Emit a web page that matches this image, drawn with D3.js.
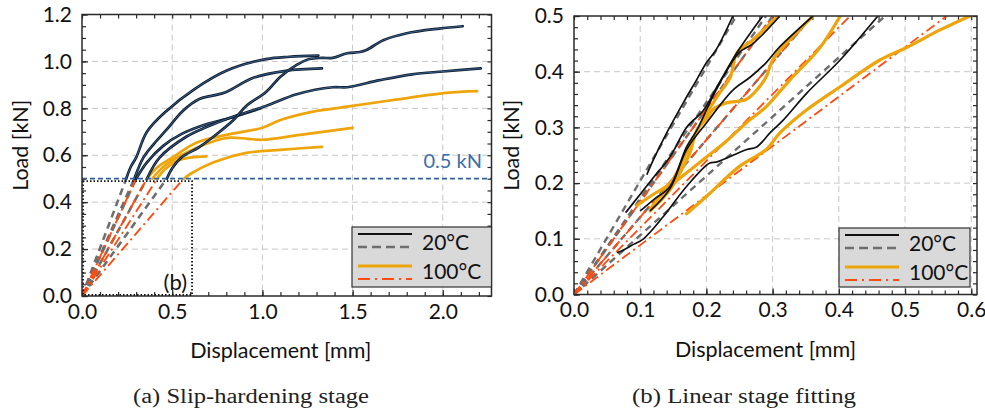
<!DOCTYPE html>
<html><head><meta charset="utf-8">
<script src="https://cdn.jsdelivr.net/npm/d3@7"></script>
<style>
html,body{margin:0;padding:0;background:#fff;}
svg{display:block;}
</style></head>
<body>
<svg id="chart" width="985" height="411"></svg>
<script>
// ---------- DATA ----------
const leftXTicks = [0.0, 0.5, 1.0, 1.5, 2.0];
const leftYTicks = [0.0, 0.2, 0.4, 0.6, 0.8, 1.0, 1.2];
const rightXTicks = [0.0, 0.1, 0.2, 0.3, 0.4, 0.5, 0.6];
const rightYTicks = [0.0, 0.1, 0.2, 0.3, 0.4, 0.5];

// 20°C slip-hardening curves (displacement mm, load kN)
const slip20A = [[0.245,0.5],[0.27,0.55],[0.30,0.59],[0.36,0.70],[0.47,0.79],[0.62,0.88],[0.80,0.96],[1.02,1.01],[1.15,1.02],[1.31,1.025]];
const slip20B = [[0.29,0.5],[0.34,0.59],[0.40,0.65],[0.47,0.71],[0.56,0.79],[0.65,0.84],[0.73,0.855],[0.80,0.87],[0.95,0.93],[1.13,0.96],[1.33,0.97]];
const slip20C = [[0.30,0.5],[0.36,0.57],[0.45,0.64],[0.55,0.69],[0.68,0.73],[0.85,0.765],[0.99,0.80]];
const slip20D = [[0.36,0.5],[0.43,0.59],[0.58,0.68],[0.69,0.72],[0.84,0.765],[1.02,0.81],[1.19,0.86],[1.39,0.89],[1.47,0.89],[1.65,0.92],[1.83,0.945],[2.0,0.957],[2.21,0.97]];
const slip20E = [[0.47,0.5],[0.50,0.545],[0.55,0.59],[0.65,0.635],[0.73,0.68],[0.84,0.75],[0.91,0.81],[1.02,0.87],[1.10,0.935],[1.19,0.985],[1.26,1.01],[1.33,1.015],[1.39,1.015],[1.47,1.035],[1.54,1.04],[1.58,1.05],[1.67,1.09],[1.80,1.12],[1.98,1.14],[2.11,1.15]];
// 100°C slip-hardening curves
const slip100A = [[0.36,0.5],[0.42,0.55],[0.50,0.59],[0.64,0.655],[0.82,0.69],[1.0,0.717],[1.1,0.75],[1.28,0.786],[1.47,0.807],[1.74,0.837],[2.02,0.866],[2.19,0.873]];
const slip100B = [[0.39,0.5],[0.45,0.55],[0.55,0.60],[0.73,0.66],[0.82,0.675],[0.92,0.67],[1.0,0.666],[1.21,0.687],[1.5,0.717]];
const slip100C = [[0.565,0.5],[0.60,0.52],[0.73,0.57],[0.91,0.61],[1.1,0.623],[1.33,0.636]];
const slip100D = [[0.417,0.5],[0.46,0.54],[0.54,0.58],[0.69,0.595]];

// Linear fits: displacement at which each fitted line reaches 0.5 kN
const fit20End = [0.245, 0.29, 0.30, 0.36, 0.47];
const fit100End = [0.30, 0.36, 0.417, 0.563];
const fitLoad = 0.5;

// Linear stage measured curves (panel b)
const lin20A = [[0.11,0.215],[0.12,0.242],[0.14,0.29],[0.165,0.344],[0.185,0.385],[0.20,0.416],[0.215,0.44],[0.24,0.5]];
const lin20B = [[0.078,0.147],[0.10,0.18],[0.12,0.21],[0.145,0.247],[0.17,0.30],[0.195,0.33],[0.216,0.373],[0.246,0.434],[0.285,0.5]];
const lin20C = [[0.10,0.15],[0.12,0.17],[0.145,0.194],[0.17,0.265],[0.186,0.296],[0.205,0.344],[0.225,0.39],[0.25,0.435],[0.27,0.45],[0.311,0.5]];
const lin20D = [[0.115,0.15],[0.145,0.19],[0.17,0.26],[0.2,0.308],[0.24,0.367],[0.266,0.39],[0.29,0.416],[0.311,0.445],[0.361,0.5]];
const lin20E = [[0.065,0.075],[0.075,0.08],[0.09,0.09],[0.105,0.1],[0.135,0.14],[0.17,0.194],[0.205,0.236],[0.216,0.238],[0.26,0.26],[0.276,0.265],[0.296,0.29],[0.316,0.313],[0.352,0.362],[0.402,0.421],[0.459,0.5]];
const lin100A = [[0.17,0.145],[0.2,0.176],[0.25,0.23],[0.29,0.26],[0.311,0.29],[0.352,0.332],[0.402,0.373],[0.462,0.421],[0.503,0.444],[0.553,0.475],[0.598,0.5]];
const lin100B = [[0.115,0.152],[0.125,0.17],[0.145,0.194],[0.195,0.242],[0.23,0.275],[0.26,0.308],[0.29,0.337],[0.326,0.385],[0.372,0.444],[0.402,0.5]];
const lin100C = [[0.115,0.15],[0.145,0.188],[0.16,0.218],[0.175,0.254],[0.186,0.296],[0.2,0.315],[0.21,0.332],[0.23,0.344],[0.26,0.35],[0.276,0.367],[0.29,0.39],[0.3,0.421],[0.32,0.45],[0.361,0.5]];
const lin100D = [[0.095,0.16],[0.12,0.18],[0.145,0.2],[0.17,0.254],[0.195,0.314],[0.216,0.355],[0.236,0.39],[0.246,0.434],[0.27,0.457],[0.308,0.5]];

const refLoad = 0.5;           // horizontal reference line
const zoomBox = [0.61, 0.49];  // region shown in panel (b)
const legendLabels = ["20°C", "100°C"];
const captions = ["(a) Slip-hardening stage", "(b) Linear stage fitting"];

// ---------- DRAWING ----------
const svg = d3.select("#chart");
const FONT = "Lato, 'Open Sans', sans-serif";
const C = {black:"#111111", navy:"#0f1c2c", blue:"#4a7db5", gray:"#6e6e6e", orange:"#eea50c", red:"#ff4a10", refBlue:"#2f5f9f", grid:"#c6c6c6", frame:"#2a2a2a"};
const TICKFS = 21, TITLEFS = 21.5;

function panel(cfg){
  const g = svg.append("g");
  const x = d3.scaleLinear().domain(cfg.xDom).range([cfg.x0, cfg.x1]);
  const y = d3.scaleLinear().domain(cfg.yDom).range([cfg.y1, cfg.y0]);
  const clipId = "clip"+cfg.id;
  svg.append("clipPath").attr("id", clipId).append("rect")
    .attr("x", cfg.x0).attr("y", cfg.y0).attr("width", cfg.x1-cfg.x0).attr("height", cfg.y1-cfg.y0);
  const grid = g.append("g");
  cfg.xTicks.filter(v=>v>0 && x(v)<cfg.x1-2).forEach(v=>{
    grid.append("line").attr("x1",x(v)).attr("x2",x(v)).attr("y1",cfg.y0).attr("y2",cfg.y1)
      .attr("stroke",C.grid).attr("stroke-width",1).attr("stroke-dasharray","6,4");
  });
  cfg.yTicks.filter(v=>v>0 && y(v)>cfg.y0+2).forEach(v=>{
    grid.append("line").attr("y1",y(v)).attr("y2",y(v)).attr("x1",cfg.x0).attr("x2",cfg.x1)
      .attr("stroke",C.grid).attr("stroke-width",1).attr("stroke-dasharray","6,4");
  });
  const xMinor = d3.range(cfg.xDom[0], cfg.xDom[1]+1e-9, cfg.xMinorStep);
  const yMinor = d3.range(cfg.yDom[0], cfg.yDom[1]+1e-9, cfg.yMinorStep);
  const styleAx = sel => { sel.select(".domain").remove(); sel.selectAll(".tick line").attr("stroke",C.frame).attr("stroke-width",1.2);
    sel.selectAll("text").attr("font-family",FONT).attr("font-size",TICKFS).attr("fill","#111"); };
  g.append("g").attr("transform",`translate(0,${cfg.y1})`)
    .call(d3.axisBottom(x).tickValues(xMinor).tickSize(-4).tickFormat("")).call(styleAx);
  g.append("g").attr("transform",`translate(0,${cfg.y0})`)
    .call(d3.axisTop(x).tickValues(xMinor).tickSize(-4).tickFormat("")).call(styleAx);
  g.append("g").attr("transform",`translate(${cfg.x0},0)`)
    .call(d3.axisLeft(y).tickValues(yMinor).tickSize(-4).tickFormat("")).call(styleAx);
  g.append("g").attr("transform",`translate(${cfg.x1},0)`)
    .call(d3.axisRight(y).tickValues(yMinor).tickSize(-4).tickFormat("")).call(styleAx);
  g.append("g").attr("transform",`translate(0,${cfg.y1})`)
    .call(d3.axisBottom(x).tickValues(cfg.xTicks).tickSize(-6).tickPadding(8).tickFormat(d3.format(".1f"))).call(styleAx)
    .selectAll("text").attr("dy","0.71em");
  g.append("g").attr("transform",`translate(${cfg.x0},0)`)
    .call(d3.axisLeft(y).tickValues(cfg.yTicks).tickSize(-6).tickPadding(10).tickFormat(d3.format(".1f"))).call(styleAx);
  g.append("text").attr("x",(cfg.x0+cfg.x1)/2 + cfg.xTitleDx).attr("y",cfg.y1+62).attr("text-anchor","middle")
    .attr("font-family",FONT).attr("font-size",TITLEFS).attr("fill","#111").text("Displacement [mm]");
  g.append("text").attr("transform",`translate(${cfg.yTitleX},${(cfg.y0+cfg.y1)/2-10}) rotate(-90)`).attr("text-anchor","middle")
    .attr("font-family",FONT).attr("font-size",TITLEFS).attr("fill","#111").text("Load [kN]");
  const plot = g.append("g").attr("clip-path",`url(#${clipId})`);
  return {g, plot, x, y};
}

const line = (x,y)=>d3.line().x(d=>x(d[0])).y(d=>y(d[1])).curve(d3.curveCatmullRom.alpha(0.5));

// ----- Panel (a)
const A = panel({id:"a", x0:82, x1:491.5, y0:14.5, y1:296, xDom:[0,2.27], yDom:[0,1.2],
  xTicks:leftXTicks, yTicks:leftYTicks, xMinorStep:0.1, yMinorStep:0.05, xTitleDx:-6, yTitleX:28});
{
  const {plot,x,y} = A;
  const L = line(x,y);
  fit20End.forEach(e=>plot.append("line").attr("x1",x(0)).attr("y1",y(0)).attr("x2",x(e)).attr("y2",y(fitLoad))
    .attr("stroke",C.gray).attr("stroke-width",2.6).attr("stroke-dasharray","7,5"));
  fit100End.forEach(e=>plot.append("line").attr("x1",x(0)).attr("y1",y(0)).attr("x2",x(e)).attr("y2",y(fitLoad))
    .attr("stroke",C.red).attr("stroke-width",1.9).attr("stroke-dasharray","10,4,2,4"));
  plot.append("rect").attr("x",x(0)+1).attr("y",y(zoomBox[1])).attr("width",x(zoomBox[0])-x(0)-1).attr("height",y(0)-y(zoomBox[1])-1)
    .attr("fill","none").attr("stroke","#111").attr("stroke-width",1.8).attr("stroke-dasharray","1.5,2");
  A.g.append("text").attr("x",x(zoomBox[0])-5).attr("y",y(0)-6).attr("text-anchor","end")
    .attr("font-family",FONT).attr("font-size",22).attr("fill","#111").text("(b)");
  [slip100A, slip100B, slip100C, slip100D].forEach(d=>plot.append("path").attr("d",L(d))
    .attr("fill","none").attr("stroke",C.orange).attr("stroke-width",2.7).attr("stroke-linecap","round"));
  [slip20A, slip20B, slip20C, slip20D, slip20E].forEach(d=>{
    plot.append("path").attr("d",L(d)).attr("fill","none").attr("stroke",C.navy).attr("stroke-width",2.7).attr("stroke-linecap","round");
    plot.append("path").attr("d",L(d)).attr("fill","none").attr("stroke",C.blue).attr("stroke-width",0.8).attr("stroke-opacity",0.9);
  });
  plot.append("line").attr("x1",x(0)).attr("x2",x(2.27)).attr("y1",y(refLoad)).attr("y2",y(refLoad))
    .attr("stroke",C.refBlue).attr("stroke-width",1.7).attr("stroke-dasharray","5,3");
  A.g.append("text").attr("x",482).attr("y",y(refLoad)-11).attr("text-anchor","end")
    .attr("font-family",FONT).attr("font-size",20).attr("fill","#3a6ea8").text(d3.format(".1f")(refLoad)+" kN");
}

// ----- Panel (b)
const B = panel({id:"b", x0:574, x1:977, y0:16, y1:294.5, xDom:[0,0.6087], yDom:[0,0.5],
  xTicks:rightXTicks, yTicks:rightYTicks, xMinorStep:0.02, yMinorStep:0.02, xTitleDx:-10, yTitleX:519});
{
  const {plot,x,y} = B;
  const L = line(x,y);
  fit20End.forEach(e=>plot.append("line").attr("x1",x(0)).attr("y1",y(0)).attr("x2",x(e)).attr("y2",y(fitLoad))
    .attr("stroke",C.gray).attr("stroke-width",2.4).attr("stroke-dasharray","7,5"));
  fit100End.forEach(e=>plot.append("line").attr("x1",x(0)).attr("y1",y(0)).attr("x2",x(e)).attr("y2",y(fitLoad))
    .attr("stroke",C.red).attr("stroke-width",1.8).attr("stroke-dasharray","10,4,2,4"));
  [lin100A, lin100B, lin100C, lin100D].forEach(d=>plot.append("path").attr("d",L(d))
    .attr("fill","none").attr("stroke",C.orange).attr("stroke-width",3.2).attr("stroke-linecap","round"));
  [lin20A, lin20B, lin20C, lin20D, lin20E].forEach(d=>plot.append("path").attr("d",L(d))
    .attr("fill","none").attr("stroke",C.black).attr("stroke-width",1.7));
}

[[82,14.5,491.5,296],[574,16,977,294.5]].forEach(([a,b,c,d])=>svg.append("rect").attr("x",a).attr("y",b).attr("width",c-a).attr("height",d-b)
  .attr("fill","none").attr("stroke",C.frame).attr("stroke-width",1.5));

function legend(x0,y0,w,h){
  const g = svg.append("g");
  g.append("rect").attr("x",x0).attr("y",y0).attr("width",w).attr("height",h).attr("fill","#d9d9d9").attr("stroke","#333").attr("stroke-width",1.2);
  const lx1=x0+6, lx2=x0+60;
  g.append("line").attr("x1",lx1).attr("x2",lx2).attr("y1",y0+7).attr("y2",y0+7).attr("stroke",C.black).attr("stroke-width",1.8);
  g.append("line").attr("x1",lx1).attr("x2",lx2).attr("y1",y0+20).attr("y2",y0+20).attr("stroke",C.gray).attr("stroke-width",2.4).attr("stroke-dasharray","9,5");
  g.append("line").attr("x1",lx1).attr("x2",lx2).attr("y1",y0+39).attr("y2",y0+39).attr("stroke",C.orange).attr("stroke-width",3.2);
  g.append("line").attr("x1",lx1).attr("x2",lx2).attr("y1",y0+52).attr("y2",y0+52).attr("stroke",C.red).attr("stroke-width",1.8).attr("stroke-dasharray","12,5,2,5");
  g.append("text").attr("x",x0+70).attr("y",y0+23).attr("font-family",FONT).attr("font-size",21).attr("fill","#111").text(legendLabels[0]);
  g.append("text").attr("x",x0+70).attr("y",y0+52).attr("font-family",FONT).attr("font-size",21).attr("fill","#111").text(legendLabels[1]);
}
legend(352,227,139.5,60);
legend(839,228,131,59);

svg.append("text").attr("x",133).attr("y",403).attr("font-family","'Liberation Serif', 'DejaVu Serif', serif").attr("font-size",20)
  .attr("textLength",236).attr("lengthAdjust","spacingAndGlyphs").attr("fill","#222").text(captions[0]);
svg.append("text").attr("x",632).attr("y",403).attr("font-family","'Liberation Serif', 'DejaVu Serif', serif").attr("font-size",20)
  .attr("textLength",224).attr("lengthAdjust","spacingAndGlyphs").attr("fill","#222").text(captions[1]);
</script>
</body></html>
